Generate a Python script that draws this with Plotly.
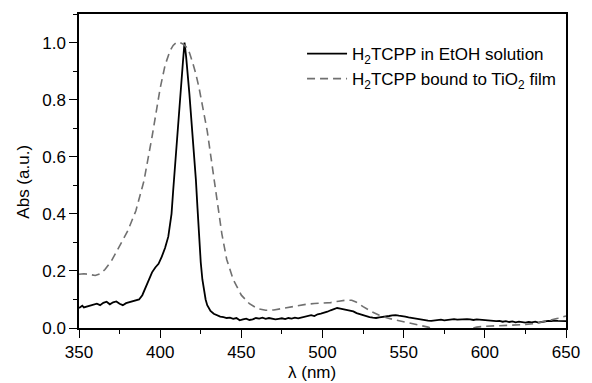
import plotly.graph_objects as go

# H2TCPP in EtOH solution (solid)
sol_wl = [350, 352, 353, 355, 357, 359, 361, 363, 365, 367, 369, 371, 373, 375, 377, 379, 381, 383, 385, 387,
          389, 391, 393, 395, 397, 398, 399, 401, 403, 405, 407, 408, 409, 410, 412, 414, 415, 416, 418, 420,
          422, 423, 424, 425, 426, 427, 428, 429, 431, 433, 435, 437, 439, 441, 443, 445, 447, 449, 451, 453,
          455, 457, 459, 461, 463, 465, 467, 469, 471, 473, 475, 477, 479, 481, 483, 485, 487, 489, 491, 493,
          495, 497, 499, 501, 503, 505, 507, 509, 511, 513, 515, 517, 519, 521, 523, 525, 527, 529, 531, 533,
          535, 537, 539, 541, 543, 545, 547, 549, 551, 553, 555, 557, 559, 561, 563, 565, 567, 569, 571, 573,
          575, 577, 579, 581, 583, 585, 587, 589, 591, 593, 595, 597, 599, 601, 603, 605, 607, 609, 611, 613,
          615, 617, 619, 621, 623, 625, 627, 629, 631, 633, 635, 637, 639, 641, 643, 645, 647, 649, 650]
sol_abs = [0.070, 0.078, 0.072, 0.075, 0.080, 0.082, 0.085, 0.080, 0.088, 0.092, 0.083, 0.090, 0.093, 0.085, 0.080, 0.087, 0.090, 0.092, 0.097, 0.100,
           0.115, 0.140, 0.170, 0.195, 0.212, 0.220, 0.225, 0.250, 0.280, 0.320, 0.400, 0.480, 0.560, 0.640, 0.780, 0.930, 1.000, 0.950, 0.820, 0.680,
           0.520, 0.420, 0.320, 0.230, 0.170, 0.130, 0.100, 0.080, 0.060, 0.050, 0.044, 0.040, 0.038, 0.035, 0.036, 0.032, 0.035, 0.027, 0.030, 0.033,
           0.028, 0.030, 0.035, 0.033, 0.036, 0.032, 0.035, 0.033, 0.030, 0.032, 0.034, 0.031, 0.035, 0.033, 0.036, 0.034, 0.037, 0.040, 0.043, 0.045,
           0.042, 0.048, 0.050, 0.053, 0.057, 0.062, 0.066, 0.070, 0.068, 0.065, 0.063, 0.060, 0.058, 0.052, 0.048, 0.045, 0.040, 0.038, 0.036, 0.035,
           0.037, 0.038, 0.040, 0.042, 0.044, 0.045, 0.043, 0.042, 0.040, 0.037, 0.035, 0.033, 0.030, 0.028, 0.027, 0.026, 0.025, 0.026, 0.028, 0.029,
           0.027, 0.028, 0.030, 0.031, 0.029, 0.030, 0.032, 0.031, 0.030, 0.028, 0.030, 0.029, 0.027, 0.028, 0.025, 0.026, 0.024, 0.025, 0.022, 0.024,
           0.021, 0.023, 0.020, 0.022, 0.020, 0.019, 0.021, 0.020, 0.022, 0.019, 0.021, 0.023, 0.025, 0.024, 0.026, 0.025, 0.024, 0.025, 0.024]

# H2TCPP bound to TiO2 film (dashed)
film_wl = [350, 353, 356, 360, 363, 366, 370, 375, 380, 385, 390, 395, 400, 403, 406, 408, 410, 412, 414, 416,
           418, 420, 422, 424, 426, 429, 432, 435, 438, 441, 445, 450, 455, 460, 465, 470, 475, 480, 485, 490,
           495, 500, 505, 510, 515, 518, 521, 525, 530, 535, 540, 545, 550, 555, 560, 565, 570, 575, 580, 585,
           590, 595, 600, 605, 610, 615, 620, 625, 630, 635, 640, 645, 650]
film_abs = [0.188, 0.190, 0.188, 0.184, 0.190, 0.205, 0.235, 0.285, 0.340, 0.410, 0.515, 0.670, 0.840, 0.920, 0.970, 0.990, 1.000, 1.000, 0.995, 0.985,
            0.965, 0.930, 0.890, 0.840, 0.780, 0.690, 0.570, 0.450, 0.330, 0.240, 0.170, 0.115, 0.085, 0.068, 0.062, 0.063, 0.068, 0.074, 0.079, 0.083,
            0.086, 0.087, 0.089, 0.094, 0.098, 0.097, 0.090, 0.075, 0.058, 0.045, 0.035, 0.028, 0.022, 0.016, 0.010, 0.003, -0.005, -0.010, -0.012, -0.010,
            -0.004, 0.003, 0.006, 0.007, 0.008, 0.010, 0.011, 0.012, 0.015, 0.020, 0.027, 0.034, 0.042]

x_ticks = [350, 400, 450, 500, 550, 600, 650]
y_ticks = [0.0, 0.2, 0.4, 0.6, 0.8, 1.0]
y_ticklabels = ["0.0", "0.2", "0.4", "0.6", "0.8", "1.0"]

FONT = "Arial, Liberation Sans, sans-serif"
FS = 17

fig = go.Figure()
fig.add_trace(go.Scatter(x=sol_wl, y=sol_abs, mode="lines",
                         name="H<sub>2</sub>TCPP in EtOH solution",
                         line=dict(color="black", width=1.8)))
fig.add_trace(go.Scatter(x=film_wl, y=film_abs, mode="lines",
                         name="H<sub>2</sub>TCPP bound to TiO<sub>2</sub> film",
                         line=dict(color="#707070", width=1.6, dash="8px,5px")))

axis_common = dict(showline=True, linecolor="black", linewidth=1.5, mirror=True,
                   ticks="outside", ticklen=8, tickwidth=1.3, tickcolor="black",
                   showgrid=False, zeroline=False,
                   tickfont=dict(family=FONT, size=FS, color="black"))

fig.update_xaxes(range=[350, 650], tickvals=x_ticks,
                 minor=dict(dtick=25, tick0=350, ticks="outside", ticklen=4, tickwidth=1.3, tickcolor="black"),
                 **axis_common)
fig.update_yaxes(range=[0, 1.1], tickvals=y_ticks, ticktext=y_ticklabels,
                 minor=dict(dtick=0.1, tick0=0, ticks="outside", ticklen=4, tickwidth=1.3, tickcolor="black"),
                 **axis_common)

fig.add_annotation(text="λ (nm)", xref="paper", yref="paper", x=0.478, y=-0.141,
                   xanchor="center", yanchor="middle", showarrow=False,
                   font=dict(family=FONT, size=FS, color="black"))
fig.add_annotation(text="Abs (a.u.)", xref="paper", yref="paper", x=-0.113, y=0.466,
                   xanchor="center", yanchor="middle", showarrow=False, textangle=-90,
                   font=dict(family=FONT, size=FS, color="black"))

fig.update_layout(
    width=592, height=383,
    margin=dict(l=79, r=16, t=13, b=55),
    paper_bgcolor="white", plot_bgcolor="white",
    font=dict(family=FONT, size=FS, color="black"),
    showlegend=True,
    legend=dict(x=0.458, y=0.93, xanchor="left", yanchor="top",
                bgcolor="rgba(0,0,0,0)", font=dict(family=FONT, size=FS, color="black"),
                itemwidth=40, tracegroupgap=0),
)

fig.write_html("out.html")
